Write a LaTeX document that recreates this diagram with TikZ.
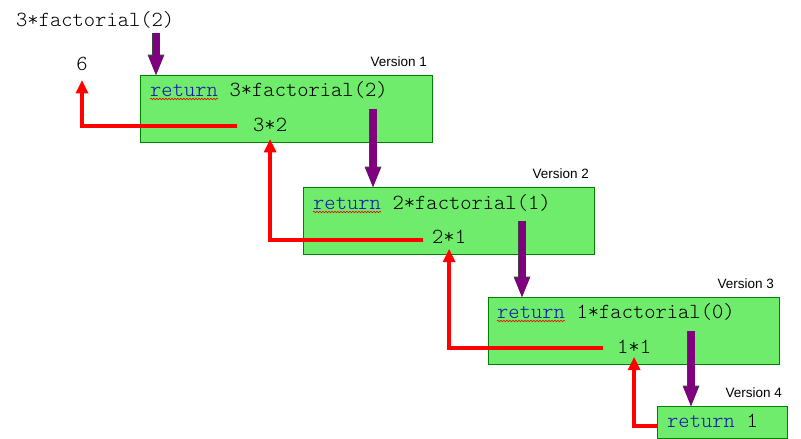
\documentclass[tikz,border=0pt]{standalone}
\usepackage{fontspec}
\setmainfont{Liberation Sans}
\setsansfont{Liberation Sans}
\setmonofont{lmmonolt10-regular.otf}
\usetikzlibrary{positioning, arrows.meta, decorations.pathmorphing}

\definecolor{boxgreen}{RGB}{112,236,108}
\definecolor{boxedge}{RGB}{0,128,0}
\definecolor{callpurple}{RGB}{128,0,128}
\definecolor{kwblue}{RGB}{20,20,170}

\begin{document}
\begin{tikzpicture}[x=1pt, y=-1pt]
    % settings can be global or per picture
    \tikzset{
      frame/.style={draw=boxedge, line width=1.2pt, fill=boxgreen, anchor=north west, inner sep=0pt},
      code/.style={font=\fontsize{21.5pt}{24pt}\selectfont\ttfamily, inner sep=0pt, anchor=base west},
      keyword/.style={code, text=kwblue},
      version/.style={font=\fontsize{13.5pt}{16pt}\selectfont\sffamily, inner sep=0pt, anchor=base east},
      call/.style={callpurple, line width=7pt, -{Triangle[width=15pt, length=19pt, line width=0pt]},
        preaction={draw=black!75, line width=8.6pt, -{Triangle[width=17pt, length=20.5pt, line width=0pt]}}},
      back/.style={red, line width=4pt, -{Triangle[width=13pt, length=13pt, line width=0pt]}},
      squiggle/.style={red, line width=0.6pt, decorate, decoration={snake, amplitude=0.8pt, segment length=3pt}},
    }
    \useasboundingbox (0,0) rectangle (801,439);

    % first call and result
    \node[code] (start) at (16,27) {3*factorial(2)};
    \node[code, anchor=base] (result) at (82,70) {6};

    % versions
    \node[frame, minimum width=292pt, minimum height=67pt] (v1) at (140,75) {};
    \node[frame, minimum width=291pt, minimum height=67pt] (v2) at (303,187) {};
    \node[frame, minimum width=291pt, minimum height=67pt] (v3) at (488,297) {};
    \node[frame, minimum width=130pt, minimum height=32pt] (v4) at (657,406) {};

    \foreach \v/\n in {v1/1, v2/2, v3/3, v4/4}
      \node[version] (l\n) at ([xshift=-6pt, yshift=9pt]\v.north east) {Version \n};

    % code lines
    \node[keyword] (r1) at (150,96) {return};
    \node[code, right=11.28pt of r1.base east, anchor=base west] (e1) {3*factorial(2)};
    \node[code] (p1) at (253,131) {3*2};

    \node[keyword] (r2) at (313,209) {return};
    \node[code, right=11.28pt of r2.base east, anchor=base west] (e2) {2*factorial(1)};
    \node[code] (p2) at (432,243) {2*1};

    \node[keyword] (r3) at (497,318) {return};
    \node[code, right=11.28pt of r3.base east, anchor=base west] (e3) {1*factorial(0)};
    \node[code] (p3) at (617,353) {1*1};

    \node[keyword] (r4) at (667,427) {return};
    \node[code, right=11.28pt of r4.base east, anchor=base west] (e4) {1};

    \foreach \r in {r1, r2, r3}
      \draw[squiggle] ([yshift=-3pt]\r.base west) -- ([yshift=-3pt]\r.base east);

    % calls
    \coordinate (c1) at (156,33);
    \coordinate (c2) at (373,109);
    \coordinate (c3) at (522,221);
    \coordinate (c4) at (691,331);
    \draw[call] (c1) -- (c1 |- v1.north);
    \draw[call] (c2) -- (c2 |- v2.north);
    \draw[call] (c3) -- (c3 |- v3.north);
    \draw[call] (c4) -- (c4 |- v4.north);

    % returns
    \coordinate (b1) at (237,126);
    \coordinate (b2) at (423,240);
    \coordinate (b3) at (603,348);
    \draw[back] (b1) -| ([yshift=-10pt]result.south);
    \draw[back] (b2) -| ([yshift=-8pt]p1.south);
    \draw[back] (b3) -| ([yshift=-6pt]p2.south);
    \draw[back] ([yshift=-3pt]v4.west) -| ([yshift=-4pt]p3.south);

\end{tikzpicture}
\end{document}
